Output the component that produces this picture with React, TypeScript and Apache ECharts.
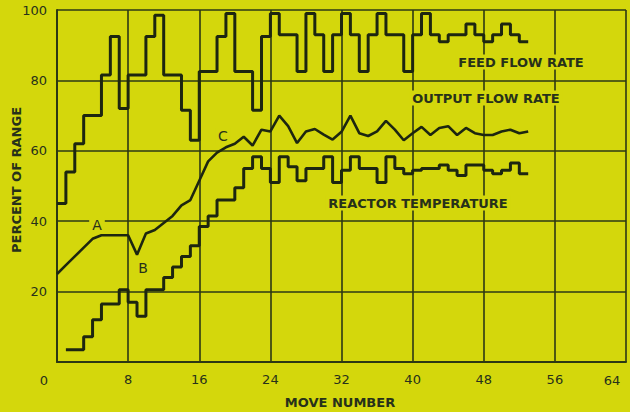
import React, { useEffect, useRef } from "react";
import * as echarts from "echarts";

// Move numbers where each trace starts (values hold until the next move for the stepped traces)
const feedStart = 0;
const feedFlow = [
  45, 54, 62, 70, 70, 81.5, 92.5, 72, 81.5, 81.5, 92.5, 98.5, 81.5, 81.5, 71.5, 63,
  82.5, 82.5, 92.5, 99, 82.5, 82.5, 71.5, 92.5, 99, 93, 93, 82.5, 99, 93, 82.5, 93,
  99, 93, 82.5, 93, 99, 93, 93, 82.5, 93, 99, 93, 91, 93, 93, 96, 93, 91, 93, 96, 93,
  91, 91,
];

const outputStart = 0;
const outputFlow = [
  25, 27.5, 30, 32.5, 35, 36, 36, 36, 36, 30.5, 36.5, 37.5, 39.5, 41.5, 44.5, 46,
  51.5, 57, 59.5, 61, 62, 64, 61.5, 66, 65.5, 70, 67, 62.2, 65.5, 66.2, 64.6, 63.2,
  65.4, 70, 65, 64.2, 65.5, 68.5, 66, 63, 65, 66.8, 64.5, 66.5, 67, 64.5, 66.5, 65,
  64.5, 64.5, 65.5, 66, 65, 65.5,
];

const reactorStart = 1;
const reactorTemp = [
  3.5, 3.5, 7.2, 12, 16.5, 16.5, 20.5, 17, 13, 20.5, 20.5, 24, 27, 30, 33, 38.5, 41.5,
  46, 46, 49.5, 55, 58.3, 55, 51, 58.3, 55.5, 51.5, 55, 55, 58.3, 51, 54.5, 58.3, 55,
  55, 51, 58.3, 55, 53.5, 54.5, 55, 55, 56, 54.5, 53, 56, 56, 54.5, 53.5, 54.5, 56.5,
  53.5, 53.5,
];

const xMin = 0;
const xMax = 64;
const xStep = 8;
const yMin = 0;
const yMax = 100;
const yStep = 20;

const BG = "#d4d70c";
const INK = "#1d2610";
const GRID = "#2c3814";
const TEXT = "#27311a";
const FONT = "'DejaVu Sans', 'Liberation Sans', sans-serif";

const toPairs = (start: number, vals: number[]) => vals.map((v, i) => [start + i, v]);

export default function App() {
  const ref = useRef<HTMLDivElement>(null);

  useEffect(() => {
    if (!ref.current) return;
    const chart = echarts.init(ref.current, undefined, { renderer: "svg" });

    const stepLine = (name: string, data: number[][]) => ({
      name,
      type: "line",
      step: "end",
      data,
      symbol: "none",
      showSymbol: false,
      z: 3,
      lineStyle: { color: INK, width: 3 },
    });

    const label = (text: string, x: number, y: number, bold: boolean, size: number) => ({
      type: "text",
      x,
      y,
      z: 10,
      style: {
        text,
        fill: TEXT,
        font: `${bold ? "bold " : ""}${size}px ${FONT}`,
        textAlign: "center",
        textVerticalAlign: "middle",
        backgroundColor: BG,
        padding: [1, 3],
      },
    });

    chart.setOption({
      animation: false,
      backgroundColor: BG,
      grid: { left: 57, right: 4, top: 10, bottom: 50 },
      xAxis: {
        type: "value",
        min: xMin,
        max: xMax,
        interval: xStep,
        axisLine: { show: true, lineStyle: { color: GRID, width: 2 } },
        axisTick: { show: false },
        splitLine: { show: true, lineStyle: { color: GRID, width: 1.6 } },
        axisLabel: {
          color: TEXT,
          fontSize: 13,
          fontFamily: FONT,
          margin: 11,
          showMinLabel: false,
          showMaxLabel: false,
        },
      },
      yAxis: {
        type: "value",
        min: yMin,
        max: yMax,
        interval: yStep,
        axisLine: { show: true, lineStyle: { color: GRID, width: 2 } },
        axisTick: { show: false },
        splitLine: { show: true, lineStyle: { color: GRID, width: 1.6 } },
        axisLabel: {
          color: TEXT,
          fontSize: 13,
          fontFamily: FONT,
          margin: 10,
          showMinLabel: false,
        },
      },
      series: [
        stepLine("FEED FLOW RATE", toPairs(feedStart, feedFlow)),
        {
          name: "OUTPUT FLOW RATE",
          type: "line",
          data: toPairs(outputStart, outputFlow),
          symbol: "none",
          showSymbol: false,
          z: 3,
          lineStyle: { color: INK, width: 2.6 },
        },
        stepLine("REACTOR TEMPERATURE", toPairs(reactorStart, reactorTemp)),
      ],
      graphic: [
        label("FEED FLOW RATE", 521, 62, true, 13),
        label("OUTPUT FLOW RATE", 486, 98, true, 13),
        label("REACTOR TEMPERATURE", 418, 203, true, 13),
        label("A", 97, 225, false, 14),
        label("B", 143, 268, false, 14),
        label("C", 223, 136, false, 14),
        {
          type: "text",
          x: 44,
          y: 380,
          style: { text: "0", fill: TEXT, font: `13px ${FONT}`, textAlign: "center", textVerticalAlign: "middle" },
        },
        {
          type: "text",
          x: 612,
          y: 380,
          style: { text: "64", fill: TEXT, font: `13px ${FONT}`, textAlign: "center", textVerticalAlign: "middle" },
        },
        {
          type: "text",
          x: 340,
          y: 402,
          style: { text: "MOVE NUMBER", fill: TEXT, font: `bold 13px ${FONT}`, textAlign: "center", textVerticalAlign: "middle" },
        },
        {
          type: "text",
          x: 16,
          y: 180,
          rotation: Math.PI / 2,
          style: { text: "PERCENT OF RANGE", fill: TEXT, font: `bold 13px ${FONT}`, textAlign: "center", textVerticalAlign: "middle" },
        },
      ],
    });

    return () => chart.dispose();
  }, []);

  return (
    <div
      ref={ref}
      style={{ position: "fixed", left: 0, top: 0, width: 630, height: 412 }}
    />
  );
}
